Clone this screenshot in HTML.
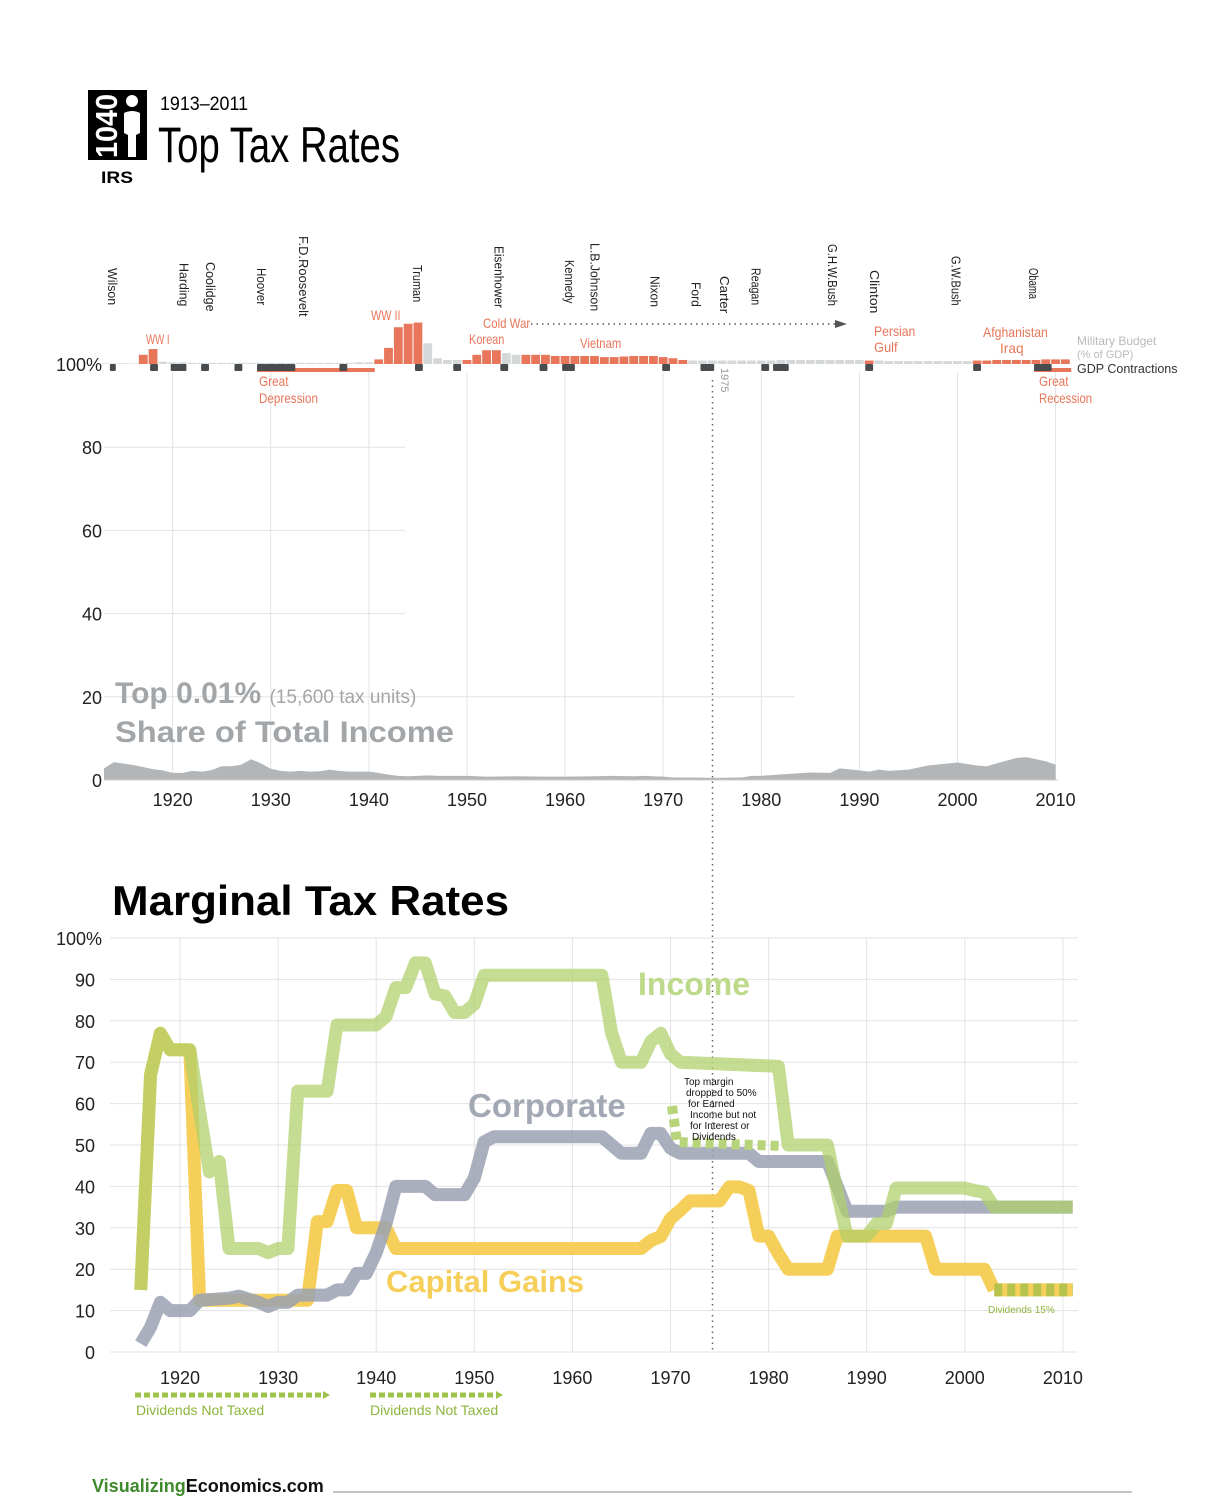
<!DOCTYPE html>
<html><head><meta charset="utf-8"><style>
body{margin:0;background:#fff}
svg{display:block;font-family:"Liberation Sans",sans-serif}
</style></head><body>
<svg id="c" width="1230" height="1500" viewBox="0 0 1230 1500">
<g>
<rect x="88" y="90" width="59" height="70" fill="#000"/>
<text transform="translate(117,158) rotate(-90)" fill="#fff" font-weight="bold" font-size="31" textLength="64" lengthAdjust="spacingAndGlyphs">1040</text>
<circle cx="132" cy="101" r="6" fill="#fff"/>
<path d="M124,113 Q132,109 140,113 L140,133 L136,135 L136,157 L128,157 L128,135 L124,133Z" fill="#fff"/>
<text x="101" y="183" font-weight="bold" font-size="17" textLength="32" lengthAdjust="spacingAndGlyphs">IRS</text>
<text x="160" y="110" font-size="19" textLength="88" lengthAdjust="spacingAndGlyphs">1913–2011</text>
<text x="158" y="162" font-size="50" textLength="242" lengthAdjust="spacingAndGlyphs">Top Tax Rates</text>
</g>
<g id="topchart"></g>
<g id="botchart"></g>
<g>
<text x="92" y="1492" font-size="18" font-weight="bold"><tspan fill="#3f8a2c">Visualizing</tspan><tspan fill="#111">Economics.com</tspan></text>
<line x1="333" y1="1492" x2="1132" y2="1492" stroke="#888" stroke-width="1"/>
</g>
</svg>
<script>
// ---------- TOP CHART DATA ----------
const shareYears=[1913,1914,1916,1918,1919,1920,1921,1922,1923,1924,1925,1926,1927,1928,1929,1930,1931,1932,1933,1934,1935,1936,1937,1938,1939,1940,1941,1942,1943,1944,1945,1946,1947,1948,1950,1952,1955,1958,1960,1963,1965,1967,1968,1970,1971,1973,1975,1978,1979,1980,1983,1985,1987,1988,1990,1991,1992,1993,1995,1997,2000,2002,2003,2004,2006,2007,2009,2010];
const shareValues=[2.8,4.3,3.6,2.6,2.3,1.7,1.7,2.2,2.0,2.4,3.3,3.3,3.7,5.0,4.0,2.7,2.2,2.0,2.2,2.0,2.1,2.5,2.2,2.0,2.0,2.0,1.7,1.3,1.0,0.9,1.0,1.1,1.0,1.0,1.0,0.8,0.9,0.8,0.8,0.9,1.0,0.9,1.0,0.8,0.6,0.6,0.5,0.6,1.0,1.0,1.5,1.8,1.7,2.8,2.3,2.0,2.5,2.2,2.5,3.5,4.2,3.5,3.3,4.0,5.3,5.5,4.5,3.7];
const milYears=[1913,1914,1915,1916,1917,1918,1919,1920,1921,1922,1923,1924,1925,1926,1927,1928,1929,1930,1931,1932,1933,1934,1935,1936,1937,1938,1939,1940,1941,1942,1943,1944,1945,1946,1947,1948,1949,1950,1951,1952,1953,1954,1955,1956,1957,1958,1959,1960,1961,1962,1963,1964,1965,1966,1967,1968,1969,1970,1971,1972,1973,1974,1975,1976,1977,1978,1979,1980,1981,1982,1983,1984,1985,1986,1987,1988,1989,1990,1991,1992,1993,1994,1995,1996,1997,1998,1999,2000,2001,2002,2003,2004,2005,2006,2007,2008,2009,2010,2011];
const milValues=[0.5,0.5,0.5,0.5,8,13,2,1.5,1.5,1,1,1,1,1,1,1,1,1,1,1,1,1,1,1,1,1,1.5,1.5,4,14,32,35,36,18,5,3.5,3.5,3.5,8,12,12,9.5,8,8,8,8,7,7,7,7,7,6,6,6.5,7,7,7,6,5,3.5,3,3,3,3,3,3,3,3,3,3.5,3.5,3.5,3.5,3.5,3.5,3.5,3.5,3.5,3,3,2.5,2.5,2.5,2.5,2.5,2.5,2.5,2.5,2.5,3,3,3.5,3.5,3.5,3.5,3.5,4,4,4];
const milWar=[0,0,0,0,1,1,0,0,0,0,0,0,0,0,0,0,0,0,0,0,0,0,0,0,0,0,0,0,1,1,1,1,1,0,0,0,0,1,1,1,1,0,0,1,1,1,1,1,1,1,1,1,1,1,1,1,1,1,1,1,0,0,0,0,0,0,0,0,0,0,0,0,0,0,0,0,0,0,1,0,0,0,0,0,0,0,0,0,0,1,1,1,1,1,1,1,1,1,1];
const contractionStart=[1913.6,1917.7,1919.8,1922.9,1926.3,1928.6,1937,1944.7,1948.6,1953.4,1957.4,1959.7,1969.9,1973.8,1980,1981.2,1990.6,2001.6,2007.8];
const contractionEnd=[1914.2,1918.5,1921.4,1923.7,1927.1,1932.5,1937.8,1945.5,1949.4,1954.2,1958.2,1961,1970.7,1975.2,1980.8,1982.8,1991.4,2002.4,2009.6];
const topYTicks=[0,20,40,60,80,100];
const topYTickLabels=["0","20","40","60","80","100%"];
const decadeTicks=[1920,1930,1940,1950,1960,1970,1980,1990,2000,2010];
const presNames=["Wilson","Harding","Coolidge","Hoover","F.D.Roosevelt","Truman","Eisenhower","Kennedy","L.B.Johnson","Nixon","Ford","Carter","Reagan","G.H.W.Bush","Clinton","G.W.Bush","Obama"];
const presYears=[1913.9,1921.2,1923.9,1929.1,1933.4,1945,1953.3,1960.5,1963.1,1969.2,1973.4,1976.3,1979.5,1987.3,1991.6,1999.9,2007.8];
const presTop=[268,263,262,268,236,265,246,260,243,276,282,276,268,244,270,256,268];

// ---------- BOTTOM CHART DATA ----------
const incomeYears=[1916,1917,1918,1919,1921,1922,1923,1924,1925,1928,1929,1930,1931,1932,1935,1936,1940,1941,1942,1943,1944,1945,1946,1947,1948,1949,1950,1951,1963,1964,1965,1967,1968,1969,1970,1971,1981,1982,1986,1987,1988,1990,1991,1992,1993,2000,2001,2002,2003,2011];
const incomeValues=[15,67,77,73,73,58,43.5,46,25,25,24,25,25,63,63,79,79,81,88,88,94,94,86.5,86,82,82,84,91,91,77,70,70,75,77,72,70,69,50,50,38.5,28,28,31,31,39.6,39.6,39,38.6,35,35];
const corpYears=[1916,1917,1918,1919,1921,1922,1925,1926,1928,1929,1930,1931,1932,1935,1936,1937,1938,1939,1940,1941,1942,1945,1946,1949,1950,1951,1952,1963,1964,1965,1967,1968,1969,1970,1971,1978,1979,1986,1987,1988,1992,1993,2011];
const corpValues=[2,6,12,10,10,12.5,13,13.5,12,11,12,12,13.75,13.75,15,15,19,19,24,31,40,40,38,38,42,50.75,52,52,50,48,48,52.8,52.8,49.2,48,48,46,46,40,34,34,35,35];
const capYears=[1916,1917,1918,1919,1921,1922,1933,1934,1935,1936,1937,1938,1941,1942,1967,1968,1969,1970,1971,1972,1975,1976,1977,1978,1979,1980,1981,1982,1986,1987,1996,1997,2002,2003];
const capValues=[15,67,77,73,73,12.5,12.5,31.5,31.5,39,39,30,30,25,25,26.9,27.9,32.2,34.25,36.5,36.5,39.9,39.9,39,28,28,23.7,20,20,28,28,20,20,15];
const divYears=[2003,2011];
const divValues=[15,15];
const botYTicks=[0,10,20,30,40,50,60,70,80,90,100];
const botYTickLabels=["0","10","20","30","40","50","60","70","80","90","100%"];

const NS="http://www.w3.org/2000/svg";
function mk(parent,tag,attrs,text){const e=document.createElementNS(NS,tag);for(const k in attrs)e.setAttribute(k,attrs[k]);if(text!==undefined)e.textContent=text;parent.appendChild(e);return e;}
const tx=y=>104+(y-1913)*9.81;
const ty=v=>780-v*4.16;
const mil=v=>v*1.15;
const bx=y=>180+(y-1920)*9.81;
const by=v=>1352-v*4.14;

const topG=document.getElementById('topchart');
topYTicks.forEach((t,i)=>{
  if(t>0&&t<100){const l=mk(topG,'line',{x1:104,x2:t==20?795:405,y1:ty(t),y2:ty(t),stroke:'#e3e3e3','stroke-width':1});
  
  }
  const tl=mk(topG,'text',{x:102,y:ty(t)+7,'text-anchor':'end','font-size':18,fill:'#222'},topYTickLabels[i]);
  
  
});
decadeTicks.forEach(d=>{
  const l=mk(topG,'line',{x1:tx(d),x2:tx(d),y1:372,y2:780,stroke:'#e3e3e3','stroke-width':1});
  
  
  const t=mk(topG,'text',{x:tx(d),y:806,'text-anchor':'middle','font-size':18,fill:'#222'},String(d));
  
  
});
let dA='M'+tx(shareYears[0])+','+ty(0);
shareYears.forEach((y,i)=>{dA+=' L'+tx(y)+','+ty(shareValues[i]);});
dA+=' L'+tx(shareYears[shareYears.length-1])+','+ty(0)+'Z';
const ar=mk(topG,'path',{d:dA,fill:'#b3b6b8'});


mk(topG,'line',{x1:104,x2:1058,y1:780,y2:780,stroke:'#ccc'});
const st=mk(topG,'text',{x:115,y:703,'font-size':30,'font-weight':'bold',fill:'#a3a6a9'});


st.innerHTML='Top 0.01% <tspan font-size="19" font-weight="normal">(15,600 tax units)</tspan>';
const st2=mk(topG,'text',{x:115,y:742,'font-size':30,'font-weight':'bold',fill:'#a3a6a9',textLength:339,lengthAdjust:'spacingAndGlyphs'},'Share of Total Income');


milYears.forEach((y,i)=>{
  const h=mil(milValues[i]);
  const r=mk(topG,'rect',{x:tx(y)-4.4,y:ty(100)-h,width:8.8,height:h,fill:milWar[i]?'#e8765a':'#d5d8d9'});
  
  
});
[[1928.6,1940.6],[2007.8,2011.6]].forEach(p=>{
  const r=mk(topG,'rect',{x:tx(p[0]),y:368,width:tx(p[1])-tx(p[0]),height:4,fill:'#e8765a'});
  
  
});
contractionStart.forEach((s,i)=>{
  const r=mk(topG,'rect',{x:tx(s),y:364,width:tx(contractionEnd[i])-tx(s),height:7,rx:1,fill:'#484c4e'});
  
  
});
presNames.forEach((n,i)=>{
  const x=tx(presYears[i])-5;
  const t=mk(topG,'text',{transform:'translate('+x+','+presTop[i]+') rotate(90)','font-size':13,fill:'#222',textLength:n.length*6.2,lengthAdjust:'spacingAndGlyphs'},n);
  
  
});
const ev=[["WW I",146,344],["WW II",371,320],["Cold War",483,328],["Korean",469,344],["Vietnam",580,348],["Great",259,386],["Depression",259,403],["Persian",874,336],["Gulf",874,352],["Afghanistan",983,337],["Iraq",1000,353],["Great",1039,386],["Recession",1039,403]];
ev.forEach(e=>{
  const t=mk(topG,'text',{x:e[1],y:e[2],'font-size':14,fill:'#e8765a',textLength:e[0].length*5.9,lengthAdjust:'spacingAndGlyphs'},e[0]);
  
  
});
const cw=mk(topG,'line',{x1:531,x2:838,y1:324,y2:324,stroke:'#555','stroke-dasharray':'1.5,4','stroke-width':1.5});


mk(topG,'path',{d:'M835,320 L847,324 L835,328 Z',fill:'#555'});
[["Military Budget",345,12,'#b8babb'],["(% of GDP)",358,11,'#b8babb'],["GDP Contractions",373,12.5,'#333']].forEach(l=>{
  const t=mk(topG,'text',{x:1077,y:l[1],'font-size':l[2],fill:l[3]},l[0]);
  
  
});
const yr=mk(topG,'text',{transform:'translate(721,368) rotate(90)','font-size':11,fill:'#999'},'1975');


const dl=mk(topG,'line',{x1:712.5,x2:712.5,y1:380,y2:1352,stroke:'#666','stroke-dasharray':'1.5,4','stroke-width':1.5});



// ---------- BOTTOM ----------
const botG=document.getElementById('botchart');
const mt=mk(botG,'text',{x:112,y:915,'font-size':42,'font-weight':'bold',fill:'#000',textLength:397,lengthAdjust:'spacingAndGlyphs'},'Marginal Tax Rates');


botYTicks.forEach((t,i)=>{
  const l=mk(botG,'line',{x1:110,x2:1078,y1:by(t),y2:by(t),stroke:'#e3e3e3'});
  
  
  const tl=mk(botG,'text',{x:t==100?102:95,y:by(t)+7,'text-anchor':'end','font-size':18,fill:'#222'},botYTickLabels[i]);
  
  
});
decadeTicks.forEach(d=>{
  const l=mk(botG,'line',{x1:bx(d),x2:bx(d),y1:938,y2:1352,stroke:'#e3e3e3'});
  
  
  const t=mk(botG,'text',{x:bx(d),y:1384,'text-anchor':'middle','font-size':18,fill:'#222'},String(d));
  
  
});
function pts(ys,vs){return ys.map((y,i)=>bx(y)+','+by(vs[i])).join(' ');}
const capL=mk(botG,'polyline',{points:pts(capYears,capValues),fill:'none',stroke:'#f6cf5a','stroke-width':13,'stroke-linejoin':'round'});


const divL=mk(botG,'polyline',{points:pts(divYears,divValues),fill:'none',stroke:'#f6cf5a','stroke-width':13});


const divD=mk(botG,'polyline',{points:pts(divYears,divValues),fill:'none',stroke:'#9fbf4a','stroke-width':13,'stroke-dasharray':'8,5',opacity:0.75});


const corL=mk(botG,'polyline',{points:pts(corpYears,corpValues),fill:'none',stroke:'#9aa1b1','stroke-width':13,'stroke-linejoin':'round',opacity:0.85});


const incL=mk(botG,'polyline',{points:pts(incomeYears,incomeValues),fill:'none',stroke:'#aecf6a','stroke-width':13,'stroke-linejoin':'round',opacity:0.72});


[["Income",638,995,32,'#bdd98a'],["Corporate",468,1117,33,'#a3a8b5'],["Capital Gains",386,1292,31,'#f6cf5a']].forEach(l=>{
  const t=mk(botG,'text',{x:l[1],y:l[2],'font-size':l[3],'font-weight':'bold',fill:l[4]},l[0]);
  
  
});
const an=mk(botG,'path',{d:'M672,1106 L677,1142 L782,1146',fill:'none',stroke:'#b8d47a','stroke-width':10,'stroke-dasharray':'8,5'});


["Top margin","dropped to 50%","for Earned","Income but not","for  Interest or","Dividends"].forEach((s,i)=>{
  const xs=[684,686,688,690,690,692];
  const t=mk(botG,'text',{x:xs[i],y:1085+i*11,'font-size':10,fill:'#111'},s);
  
  
});
const d15=mk(botG,'text',{x:988,y:1313,'font-size':10,fill:'#8db53c'},'Dividends 15%');


[[135,325,136],[370,498,370]].forEach(p=>{
  const l=mk(botG,'line',{x1:p[0],x2:p[1],y1:1395,y2:1395,stroke:'#9fc24a','stroke-width':5,'stroke-dasharray':'6,3'});
  
  
  mk(botG,'path',{d:'M'+(p[1]-2)+',1391 L'+(p[1]+5)+',1395 L'+(p[1]-2)+',1399Z',fill:'#9fc24a'});
  const t=mk(botG,'text',{x:p[2],y:1415,'font-size':14,fill:'#8db53c'},'Dividends Not Taxed');
  
  
});
</script>
</body></html>
